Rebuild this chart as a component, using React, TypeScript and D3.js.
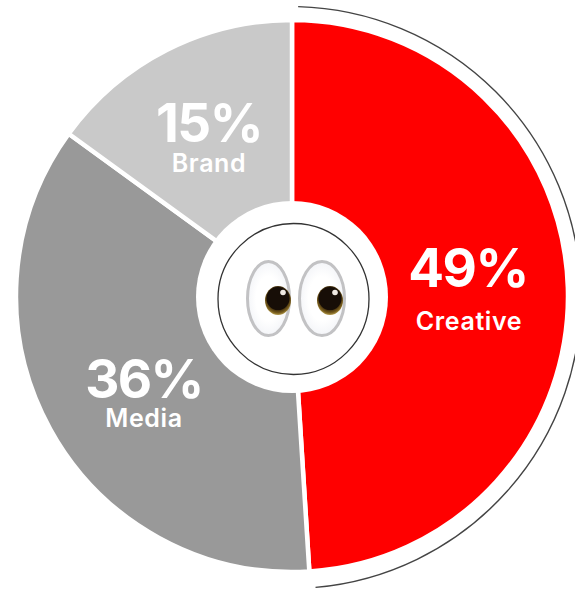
import React from "react";
import * as d3 from "d3";

const categories = ["Creative", "Media", "Brand"];
const shares = [49, 36, 15];
const colors = ["#ff0000", "#999999", "#c9c9c9"];
const labelPoints = [
  { pct: [468, 287], name: [469, 330] },
  { pct: [144, 398], name: [144, 427] },
  { pct: [209, 142], name: [209, 172] },
];

const cx = 292;
const cy = 296;
const outerR = 276;
const haloR = 96;

const pie = d3.pie<number>().sort(null).value((d) => d);
const wedge = d3.arc<d3.PieArcDatum<number>>().innerRadius(0).outerRadius(outerR);

// Thin bracket hugging the leading slice, drawn around its own slightly offset centre.
const bracket = d3.arc()({
  innerRadius: 291,
  outerRadius: 291,
  startAngle: 0.028,
  endAngle: (shares[0] / 100) * 2 * Math.PI - 0.025,
} as any) as string;

function Eye({ x, y, rx, irisX }: { x: number; y: number; rx: number; irisX: number }) {
  return (
    <g>
      <ellipse cx={x} cy={y} rx={rx} ry={37} fill="url(#sclera)" stroke="#c2c2c4" strokeWidth={3} />
      <ellipse cx={irisX} cy={y + 2} rx={13} ry={14.5} fill="url(#iris)" />
      <circle cx={irisX} cy={y} r={11.5} fill="#170e07" />
      <circle cx={irisX + 5} cy={y - 6} r={2.8} fill="#efe9e2" />
    </g>
  );
}

export default function App() {
  const arcs = pie(shares);
  const font = "Inter, Roboto, sans-serif";
  return (
    <svg
      width={575}
      height={590}
      viewBox="0 0 575 590"
      style={{ position: "absolute", left: 0, top: 0, background: "#fff" }}
    >
      <defs>
        <radialGradient id="iris" cx="50%" cy="42%" r="60%">
          <stop offset="60%" stopColor="#2a1a08" />
          <stop offset="85%" stopColor="#7a5f1e" />
          <stop offset="100%" stopColor="#c4ad5c" />
        </radialGradient>
        <radialGradient id="sclera" cx="50%" cy="50%" r="60%">
          <stop offset="50%" stopColor="#ffffff" />
          <stop offset="100%" stopColor="#eef0f5" />
        </radialGradient>
      </defs>
      <g transform={`translate(${cx},${cy})`}>
        {arcs.map((a, i) => (
          <path key={categories[i]} d={wedge(a) as string} fill={colors[i]} stroke="#fff" strokeWidth={4.5} />
        ))}
      </g>
      <path transform="translate(290,297.5)" d={bracket} fill="none" stroke="#444" strokeWidth={1.4} />
      <circle cx={cx} cy={cy + 1} r={haloR} fill="#fff" />
      <circle cx={293.5} cy={299} r={75.5} fill="none" stroke="#333" strokeWidth={1.3} />
      <Eye x={268.5} y={298.5} rx={21} irisX={278} />
      <Eye x={322} y={298.5} rx={22.5} irisX={330} />
      {categories.map((c, i) => (
        <g key={c} fill="#fff" textAnchor="middle" fontFamily={font}>
          <text
            x={labelPoints[i].pct[0]}
            y={labelPoints[i].pct[1]}
            fontSize={53}
            fontWeight={700}
            letterSpacing={-1.6}
          >
            {shares[i]}%
          </text>
          <text
            x={labelPoints[i].name[0]}
            y={labelPoints[i].name[1]}
            fontSize={25}
            fontWeight={600}
            letterSpacing={0.6}
          >
            {c}
          </text>
        </g>
      ))}
    </svg>
  );
}
